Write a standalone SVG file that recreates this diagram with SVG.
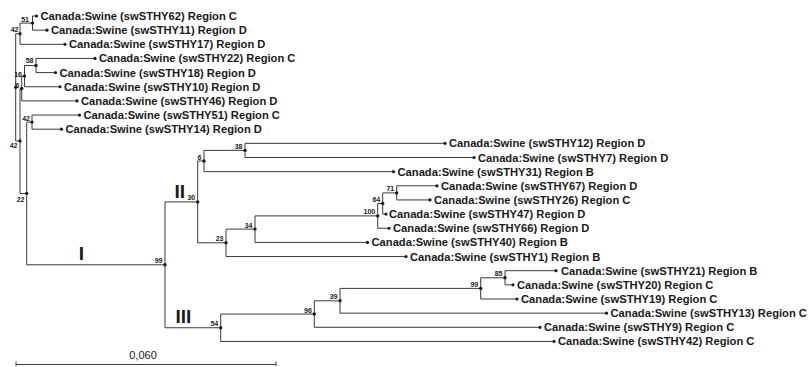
<svg xmlns="http://www.w3.org/2000/svg" width="809" height="367" viewBox="0 0 809 367">
<style>
.e{fill:none;stroke:#3a3a3a;stroke-width:1}
.d{fill:#1a1a1a}
.t{font-family:"Liberation Sans",Arial,sans-serif;font-weight:bold;font-size:11.2px;fill:#1a1a1a}
.b{font-family:"Liberation Sans",Arial,sans-serif;font-weight:bold;font-size:7px;fill:#1a1a1a;text-anchor:end}
.c{font-family:"Liberation Sans",Arial,sans-serif;font-weight:bold;font-size:19px;fill:#1a1a1a}
.s{font-family:"Liberation Sans",Arial,sans-serif;font-size:11px;fill:#1a1a1a;text-anchor:middle}
</style>
<rect width="809" height="367" fill="#ffffff"/>
<g id="connectors" class="e">
<!-- root -->
<path d="M15.7,33.7V141M15.7,33.7H20M15.7,141H20"/>
<!-- n42a -->
<path d="M20,23.1V44.3M20,23.1H32.5M20,44.3H65"/>
<!-- n51 -->
<path d="M32.5,16V30.15M32.5,16H36.5M32.5,30.15H47"/>
<!-- n42b -->
<path d="M20,88.5V193.5M20,88.5H21.7M20,193.5H26.7"/>
<!-- n6 -->
<path d="M21.7,76.1V100.9M21.7,76.1H24.5M21.7,100.9H77"/>
<!-- n16 -->
<path d="M24.5,65.5V86.75M24.5,65.5H36M24.5,86.75H60"/>
<!-- n58 -->
<path d="M36,58.45V72.6M36,58.45H95M36,72.6H55.5"/>
<!-- n22 -->
<path d="M26.7,122.1V264.8M26.7,122.1H32M26.7,264.8H165"/>
<!-- n42c -->
<path d="M32,115.05V129.2M32,115.05H79.5M32,129.2H61.5"/>
<!-- n99 -->
<path d="M165,201.9V327.75M165,201.9H197.7M165,327.75H220.7"/>
<!-- n30 -->
<path d="M197.7,161V242.8M197.7,161H204M197.7,242.8H226"/>
<!-- n6b -->
<path d="M204,150.4V171.65M204,150.4H245M204,171.65H393.5"/>
<!-- n38 -->
<path d="M245,143.35V157.5M245,143.35H445M245,157.5H474"/>
<!-- n23 -->
<path d="M226,229.1V256.55M226,229.1H255M226,256.55H406"/>
<!-- n34 -->
<path d="M255,215.9V242.4M255,215.9H377.7M255,242.4H367.5"/>
<!-- n100 -->
<path d="M377.7,203.5V228.25M377.7,203.5H382.7M377.7,228.25H389"/>
<!-- n64 -->
<path d="M382.7,192.9V214.1M382.7,192.9H396.7M382.7,214.1H386"/>
<!-- n71 -->
<path d="M396.7,185.8V199.95M396.7,185.8H437M396.7,199.95H430"/>
<!-- n54 -->
<path d="M220.7,314.05V341.45M220.7,314.05H314.3M220.7,341.45H554"/>
<!-- n96 -->
<path d="M314.3,300.8V327.3M314.3,300.8H340M314.3,327.3H540"/>
<!-- n39 -->
<path d="M340,288.4V313.15M340,288.4H480.7M340,313.15H606.5"/>
<!-- n99b -->
<path d="M480.7,277.8V299M480.7,277.8H505M480.7,299H517"/>
<!-- n85 -->
<path d="M505,270.7V284.85M505,270.7H556M505,284.85H513"/>
</g>
<g id="internal-nodes">
<g id="n-root"><circle class="d" cx="15.7" cy="87.35" r="1.7"/></g>
<g id="n42a"><circle class="d" cx="20" cy="33.7" r="1.7"/><text class="b" x="18.5" y="32">42</text></g>
<g id="n51"><circle class="d" cx="32.5" cy="23.1" r="1.7"/><text class="b" x="29" y="22">51</text></g>
<g id="n6"><circle class="d" cx="21.7" cy="88.5" r="1.7"/><text class="b" x="19.5" y="87.5">6</text></g>
<g id="n16"><circle class="d" cx="24.5" cy="76.1" r="1.7"/><text class="b" x="22" y="77">16</text></g>
<g id="n58"><circle class="d" cx="36" cy="65.5" r="1.7"/><text class="b" x="33.5" y="63">58</text></g>
<g id="n42b"><circle class="d" cx="20" cy="141" r="1.7"/><text class="b" x="17.5" y="148">42</text></g>
<g id="n42c"><circle class="d" cx="32" cy="122.1" r="1.7"/><text class="b" x="30" y="120.5">42</text></g>
<g id="n22"><circle class="d" cx="26.7" cy="193.5" r="1.7"/><text class="b" x="24.5" y="201.5">22</text></g>
<g id="n99"><circle class="d" cx="165" cy="264.8" r="1.7"/><text class="b" x="162.5" y="263.3">99</text></g>
<g id="n30"><circle class="d" cx="197.7" cy="201.9" r="1.7"/><text class="b" x="195.2" y="200.4">30</text></g>
<g id="n6b"><circle class="d" cx="204" cy="161" r="1.7"/><text class="b" x="201.5" y="159.5">6</text></g>
<g id="n38"><circle class="d" cx="245" cy="150.4" r="1.7"/><text class="b" x="242.5" y="148.9">38</text></g>
<g id="n23"><circle class="d" cx="226" cy="242.8" r="1.7"/><text class="b" x="223.5" y="241.3">23</text></g>
<g id="n34"><circle class="d" cx="255" cy="229.1" r="1.7"/><text class="b" x="252.5" y="227.6">34</text></g>
<g id="n100"><circle class="d" cx="377.7" cy="215.9" r="1.7"/><text class="b" x="375.2" y="214.4">100</text></g>
<g id="n64"><circle class="d" cx="382.7" cy="203.5" r="1.7"/><text class="b" x="380.2" y="202">64</text></g>
<g id="n71"><circle class="d" cx="396.7" cy="192.9" r="1.7"/><text class="b" x="394.2" y="191.4">71</text></g>
<g id="n54"><circle class="d" cx="220.7" cy="327.75" r="1.7"/><text class="b" x="218.2" y="326.2">54</text></g>
<g id="n96"><circle class="d" cx="314.3" cy="314.05" r="1.7"/><text class="b" x="311.8" y="312.5">96</text></g>
<g id="n39"><circle class="d" cx="340" cy="300.8" r="1.7"/><text class="b" x="337.5" y="299.3">39</text></g>
<g id="n99b"><circle class="d" cx="480.7" cy="288.4" r="1.7"/><text class="b" x="478.2" y="286.9">99</text></g>
<g id="n85"><circle class="d" cx="505" cy="277.8" r="1.7"/><text class="b" x="502.5" y="276.3">85</text></g>
</g>
<g id="leaves">
<g id="L62"><circle class="d" cx="36.5" cy="16" r="1.6"/><text class="t" x="40.5" y="20">Canada:Swine (swSTHY62) Region C</text></g>
<g id="L11"><circle class="d" cx="47" cy="30.15" r="1.6"/><text class="t" x="51" y="34.15">Canada:Swine (swSTHY11) Region D</text></g>
<g id="L17"><circle class="d" cx="65" cy="44.3" r="1.6"/><text class="t" x="69" y="48.3">Canada:Swine (swSTHY17) Region D</text></g>
<g id="L22"><circle class="d" cx="95" cy="58.45" r="1.6"/><text class="t" x="99" y="62.45">Canada:Swine (swSTHY22) Region C</text></g>
<g id="L18"><circle class="d" cx="55.5" cy="72.6" r="1.6"/><text class="t" x="59.5" y="76.6">Canada:Swine (swSTHY18) Region D</text></g>
<g id="L10"><circle class="d" cx="60" cy="86.75" r="1.6"/><text class="t" x="64" y="90.75">Canada:Swine (swSTHY10) Region D</text></g>
<g id="L46"><circle class="d" cx="77" cy="100.9" r="1.6"/><text class="t" x="81" y="104.9">Canada:Swine (swSTHY46) Region D</text></g>
<g id="L51"><circle class="d" cx="79.5" cy="115.05" r="1.6"/><text class="t" x="83.5" y="119.05">Canada:Swine (swSTHY51) Region C</text></g>
<g id="L14"><circle class="d" cx="61.5" cy="129.2" r="1.6"/><text class="t" x="65.5" y="133.2">Canada:Swine (swSTHY14) Region D</text></g>
<g id="L12"><circle class="d" cx="445" cy="143.35" r="1.6"/><text class="t" x="449" y="147.35">Canada:Swine (swSTHY12) Region D</text></g>
<g id="L7"><circle class="d" cx="474" cy="157.5" r="1.6"/><text class="t" x="478" y="161.5">Canada:Swine (swSTHY7) Region D</text></g>
<g id="L31"><circle class="d" cx="393.5" cy="171.65" r="1.6"/><text class="t" x="397.5" y="175.65">Canada:Swine (swSTHY31) Region B</text></g>
<g id="L67"><circle class="d" cx="437" cy="185.8" r="1.6"/><text class="t" x="441" y="189.8">Canada:Swine (swSTHY67) Region D</text></g>
<g id="L26"><circle class="d" cx="430" cy="199.95" r="1.6"/><text class="t" x="434" y="203.95">Canada:Swine (swSTHY26) Region C</text></g>
<g id="L47"><circle class="d" cx="386" cy="214.1" r="1.6"/><text class="t" x="389" y="218.1">Canada:Swine (swSTHY47) Region D</text></g>
<g id="L66"><circle class="d" cx="389" cy="228.25" r="1.6"/><text class="t" x="393" y="232.25">Canada:Swine (swSTHY66) Region D</text></g>
<g id="L40"><circle class="d" cx="367.5" cy="242.4" r="1.6"/><text class="t" x="371.5" y="246.4">Canada:Swine (swSTHY40) Region B</text></g>
<g id="L1"><circle class="d" cx="406" cy="256.55" r="1.6"/><text class="t" x="410" y="260.55">Canada:Swine (swSTHY1) Region B</text></g>
<g id="L21"><circle class="d" cx="556" cy="270.7" r="1.6"/><text class="t" x="561" y="274.7">Canada:Swine (swSTHY21) Region B</text></g>
<g id="L20"><circle class="d" cx="513" cy="284.85" r="1.6"/><text class="t" x="517" y="288.85">Canada:Swine (swSTHY20) Region C</text></g>
<g id="L19"><circle class="d" cx="517" cy="299" r="1.6"/><text class="t" x="521" y="303">Canada:Swine (swSTHY19) Region C</text></g>
<g id="L13"><circle class="d" cx="606.5" cy="313.15" r="1.6"/><text class="t" x="610.5" y="317.15">Canada:Swine (swSTHY13) Region C</text></g>
<g id="L9"><circle class="d" cx="540" cy="327.3" r="1.6"/><text class="t" x="544" y="331.3">Canada:Swine (swSTHY9) Region C</text></g>
<g id="L42"><circle class="d" cx="554" cy="341.45" r="1.6"/><text class="t" x="558" y="345.45">Canada:Swine (swSTHY42) Region C</text></g>
</g>
<g id="clade-labels">
<text class="c" x="78.8" y="260">I</text>
<text class="c" x="174.5" y="198">II</text>
<text class="c" x="175.5" y="323">III</text>
</g>
<g id="scale-bar">
<path class="e" d="M16,364.5H276M16,361.5V366M276,361.5V366"/>
<text class="s" x="143" y="359">0,060</text>
</g>
</svg>
